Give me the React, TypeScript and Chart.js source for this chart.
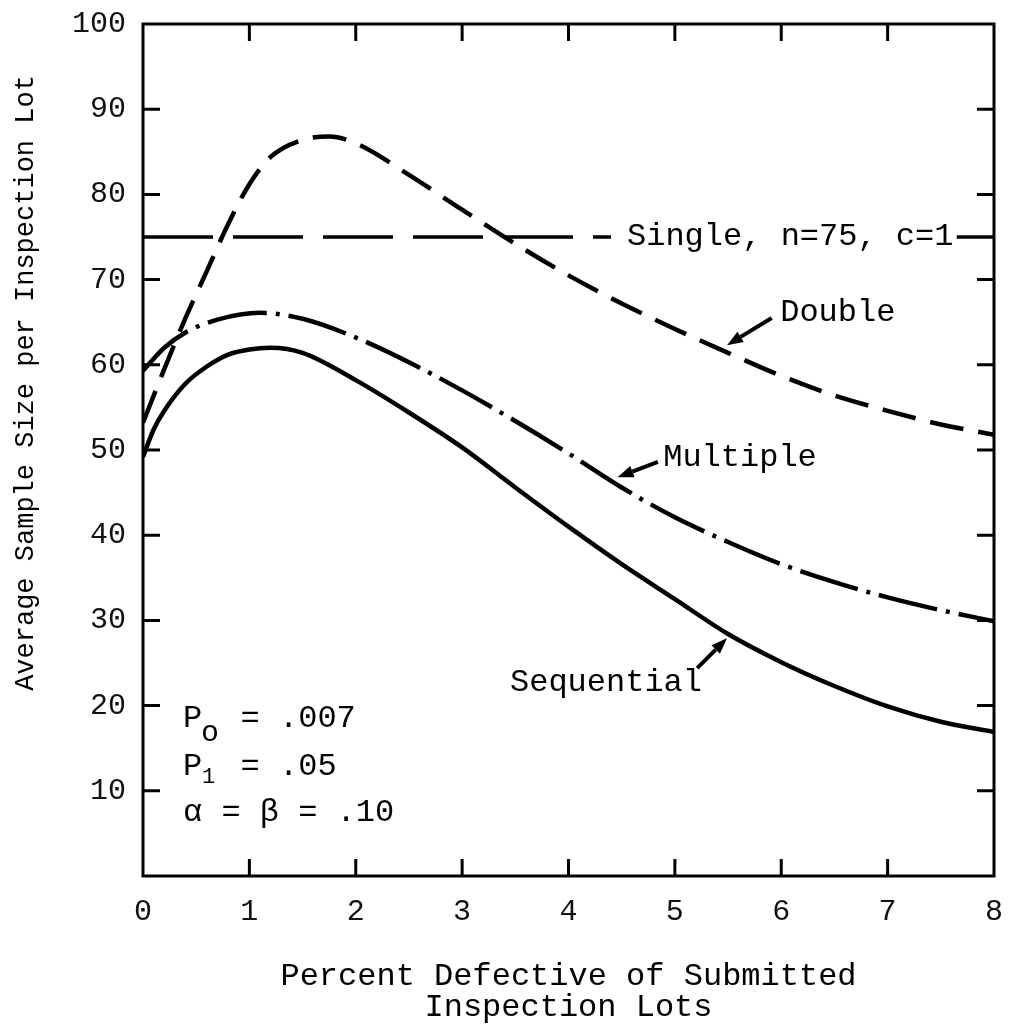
import React, { useEffect, useRef } from 'react';
import { Chart, registerables } from 'chart.js';

Chart.register(...registerables);

// ---- data ----
const xTickValues = [0, 1, 2, 3, 4, 5, 6, 7, 8];
const yTickValues = [10, 20, 30, 40, 50, 60, 70, 80, 90, 100];

const sequentialX = [0, 0.1, 0.2, 0.4, 0.6, 0.8, 1.0, 1.2, 1.5, 2.0, 2.5, 3.0, 3.5, 4.0, 4.5, 5.0, 5.5, 6.0, 6.5, 7.0, 7.5, 8.0];
const sequentialY = [49.2, 52.4, 54.6, 57.8, 59.8, 61.2, 61.8, 62.0, 61.4, 58.2, 54.4, 50.3, 45.6, 41.0, 36.6, 32.5, 28.4, 25.1, 22.3, 19.9, 18.1, 16.9];

const multipleX = [0, 0.2, 0.4, 0.7, 1.1, 1.5, 2.0, 2.5, 3.0, 3.5, 4.0, 4.5, 5.0, 5.5, 6.0, 6.5, 7.0, 7.5, 8.0];
const multipleY = [59.3, 62.0, 63.8, 65.3, 66.1, 65.4, 63.2, 60.3, 57.0, 53.4, 49.6, 45.6, 42.1, 39.2, 36.6, 34.5, 32.7, 31.2, 29.9];

const doubleX = [0, 0.2, 0.4, 0.6, 0.8, 1.0, 1.2, 1.5, 1.75, 2.0, 2.5, 3.0, 3.5, 4.0, 4.5, 5.0, 5.5, 6.0, 6.5, 7.0, 7.5, 8.0];
const doubleY = [53.2, 59.5, 65.5, 71.0, 76.5, 81.2, 84.4, 86.4, 86.8, 86.0, 82.3, 78.2, 74.2, 70.5, 67.2, 64.2, 61.4, 58.7, 56.4, 54.6, 53.0, 51.8];

const singleX = [0, 4.4, 4.41, 7.65, 8];
const singleY = [75, 75, null, 75, 75];

const xTitle = ['Percent Defective of Submitted', 'Inspection Lots'];
const yTitle = 'Average Sample Size per Inspection Lot';

const curveLabels = [
  { text: 'Single, n=75, c=1', x: 4.55, y: 75 },
  { text: 'Double', x: 5.99, y: 66.1 },
  { text: 'Multiple', x: 4.89, y: 49.1 },
  { text: 'Sequential', x: 3.45, y: 22.7 },
];
const arrows = [
  { from: [5.91, 65.5], to: [5.49, 62.3] },
  { from: [4.84, 48.6], to: [4.46, 46.8] },
  { from: [5.21, 24.4], to: [5.49, 27.9] },
];
const paramLines = [
  { main: 'P  = .007', sub: 'o', x: 0.376, y: 18.5 },
  { main: 'P  = .05', sub: '1', x: 0.376, y: 12.8 },
  { main: 'α = β = .10', sub: '', x: 0.376, y: 7.4 },
];

const pts = (xs: number[], ys: (number | null)[]) => xs.map((x, i) => ({ x, y: ys[i] }));

const MONO = '"Liberation Mono", "DejaVu Sans Mono", monospace';

const decorPlugin = {
  id: 'decor',
  afterDatasetsDraw(chart: any) {
    const { ctx, chartArea: a, scales } = chart;
    const xs = scales.x;
    const ys = scales.y;
    ctx.save();
    ctx.strokeStyle = '#000';
    ctx.fillStyle = '#000';
    ctx.lineWidth = 3;
    ctx.lineCap = 'square';
    ctx.strokeRect(a.left, a.top, a.right - a.left, a.bottom - a.top);
    const tl = 17;
    ctx.lineCap = 'butt';
    ctx.beginPath();
    xs.ticks.forEach((t: any) => {
      if (t.value <= xs.min || t.value >= xs.max) return;
      const px = xs.getPixelForValue(t.value);
      ctx.moveTo(px, a.bottom);
      ctx.lineTo(px, a.bottom - tl);
      ctx.moveTo(px, a.top);
      ctx.lineTo(px, a.top + tl);
    });
    ys.ticks.forEach((t: any) => {
      if (t.value <= ys.min || t.value >= ys.max) return;
      const py = ys.getPixelForValue(t.value);
      ctx.moveTo(a.left, py);
      ctx.lineTo(a.left + tl, py);
      ctx.moveTo(a.right, py);
      ctx.lineTo(a.right - tl, py);
    });
    ctx.stroke();

    // curve labels
    ctx.font = `32px ${MONO}`;
    ctx.textBaseline = 'middle';
    ctx.textAlign = 'left';
    curveLabels.forEach((l) => {
      ctx.fillText(l.text, xs.getPixelForValue(l.x), ys.getPixelForValue(l.y));
    });

    // arrows
    arrows.forEach((ar) => {
      const x1 = xs.getPixelForValue(ar.from[0]);
      const y1 = ys.getPixelForValue(ar.from[1]);
      const x2 = xs.getPixelForValue(ar.to[0]);
      const y2 = ys.getPixelForValue(ar.to[1]);
      const ang = Math.atan2(y2 - y1, x2 - x1);
      const hl = 16;
      const hw = 6;
      const bx = x2 - hl * Math.cos(ang);
      const by = y2 - hl * Math.sin(ang);
      ctx.lineWidth = 4;
      ctx.beginPath();
      ctx.moveTo(x1, y1);
      ctx.lineTo(bx, by);
      ctx.stroke();
      ctx.beginPath();
      ctx.moveTo(x2, y2);
      ctx.lineTo(bx + hw * Math.sin(ang), by - hw * Math.cos(ang));
      ctx.lineTo(bx - hw * Math.sin(ang), by + hw * Math.cos(ang));
      ctx.closePath();
      ctx.fill();
    });

    // parameter block
    paramLines.forEach((p, i) => {
      const px = xs.getPixelForValue(p.x);
      const py = ys.getPixelForValue(p.y);
      ctx.font = `32px ${MONO}`;
      ctx.fillText(p.main, px, py);
      if (p.sub) {
        if (i === 0) {
          ctx.font = `30px ${MONO}`;
          ctx.fillText(p.sub, px + 18, py + 15);
        } else {
          ctx.font = `22px ${MONO}`;
          ctx.fillText(p.sub, px + 19, py + 10);
        }
      }
    });

    // y axis title
    ctx.font = `27px ${MONO}`;
    ctx.textAlign = 'center';
    ctx.textBaseline = 'alphabetic';
    ctx.translate(33, 383);
    ctx.rotate(-Math.PI / 2);
    ctx.fillText(yTitle, 0, 0);
    ctx.restore();
  },
};

const hiddenTicksGrid = (len: number) => ({
  display: true,
  drawOnChartArea: false,
  drawTicks: true,
  tickLength: len,
  color: 'rgba(0,0,0,0)',
});

export default function App() {
  const ref = useRef<HTMLCanvasElement | null>(null);

  useEffect(() => {
    if (!ref.current) return;
    const chart = new Chart(ref.current, {
      type: 'line',
      data: {
        datasets: [
          {
            label: 'Sequential',
            data: pts(sequentialX, sequentialY),
            borderColor: '#000',
            borderWidth: 4.5,
            pointRadius: 0,
            pointHoverRadius: 0,
            cubicInterpolationMode: 'monotone',
          },
          {
            label: 'Multiple',
            data: pts(multipleX, multipleY),
            borderColor: '#000',
            borderWidth: 4.5,
            borderDash: [60, 9, 4, 9],
            pointRadius: 0,
            pointHoverRadius: 0,
            cubicInterpolationMode: 'monotone',
          },
          {
            label: 'Double',
            data: pts(doubleX, doubleY),
            borderColor: '#000',
            borderWidth: 4.5,
            borderDash: [34, 15],
            pointRadius: 0,
            pointHoverRadius: 0,
            cubicInterpolationMode: 'monotone',
          },
          {
            label: 'Single, n=75, c=1',
            data: pts(singleX, singleY),
            borderColor: '#000',
            borderWidth: 3.5,
            borderDash: [70, 20],
            pointRadius: 0,
            pointHoverRadius: 0,
            spanGaps: false,
            segment: {
              borderDash: (c: any) => (c.p0.parsed.x > 7 ? [] : [70, 20]),
            },
          },
        ] as any,
      },
      options: {
        animation: false,
        responsive: false,
        devicePixelRatio: 1,
        layout: { padding: { left: 0, top: 24, right: 17, bottom: 0 } },
        plugins: { legend: { display: false }, tooltip: { enabled: false } },
        scales: {
          x: {
            type: 'linear',
            min: 0,
            max: 8,
            position: 'bottom',
            afterBuildTicks: (s: any) => {
              s.ticks = xTickValues.map((v) => ({ value: v }));
            },
            afterFit: (s: any) => {
              s.height = 149;
            },
            ticks: {
              autoSkip: false,
              maxRotation: 0,
              padding: 0,
              color: '#111',
              font: { family: MONO, size: 30 },
            },
            grid: hiddenTicksGrid(18),
            border: { display: false },
            title: {
              display: true,
              text: xTitle,
              color: '#000',
              font: { family: MONO, size: 32, lineHeight: 31 / 32 },
              padding: { top: 0, bottom: 2 },
            },
          },
          y: {
            type: 'linear',
            min: 0,
            max: 100,
            afterBuildTicks: (s: any) => {
              s.ticks = yTickValues.map((v) => ({ value: v }));
            },
            afterFit: (s: any) => {
              s.width = 143;
            },
            ticks: {
              padding: 0,
              color: '#111',
              font: { family: MONO, size: 30 },
            },
            grid: hiddenTicksGrid(17),
            border: { display: false },
          },
        },
      } as any,
      plugins: [decorPlugin],
    });
    return () => chart.destroy();
  }, []);

  return (
    <div style={{ position: 'absolute', left: 0, top: 0, width: 1011, height: 1025, background: '#fff' }}>
      <canvas ref={ref} width={1011} height={1025} style={{ display: 'block' }} />
    </div>
  );
}
